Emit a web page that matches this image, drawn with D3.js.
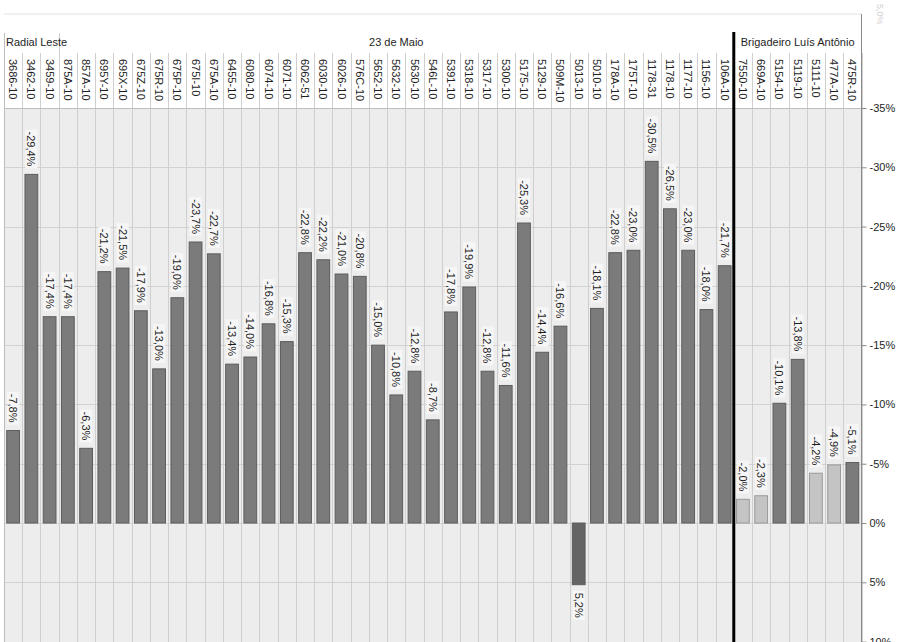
<!DOCTYPE html>
<html>
<head>
<meta charset="utf-8">
<script src="https://cdn.jsdelivr.net/npm/d3@7"></script>
<style>
  html, body { margin: 0; padding: 0; background: #fff; }
  svg { display: block; font-family: "Liberation Sans", Arial, sans-serif; }
</style>
</head>
<body>
<svg id="chart" width="897" height="642"></svg>
<script>
// ---- data ----
const categories = ["3686-10","3462-10","3459-10","875A-10","857A-10","695Y-10","695X-10","675Z-10","675R-10","675P-10",
  "675I-10","675A-10","6455-10","6080-10","6074-10","6071-10","6062-51","6030-10","6026-10","576C-10",
  "5652-10","5632-10","5630-10","546L-10","5391-10","5318-10","5317-10","5300-10","5175-10","5129-10",
  "509M-10","5013-10","5010-10","178A-10","175T-10","1178-31","1178-10","1177-10","1156-10","106A-10",
  "7550-10","669A-10","5154-10","5119-10","5111-10","477A-10","475R-10"];
const values = [-7.8,-29.4,-17.4,-17.4,-6.3,-21.2,-21.5,-17.9,-13.0,-19.0,
  -23.7,-22.7,-13.4,-14.0,-16.8,-15.3,-22.8,-22.2,-21.0,-20.8,
  -15.0,-10.8,-12.8,-8.7,-17.8,-19.9,-12.8,-11.6,-25.3,-14.4,
  -16.6,5.2,-18.1,-22.8,-23.0,-30.5,-26.5,-23.0,-18.0,-21.7,
  -2.0,-2.3,-10.1,-13.8,-4.2,-4.9,-5.1];
const groupNames = ["Radial Leste","23 de Maio","Brigadeiro Luís Antônio"];
const groupSizes = [3, 37, 7];
const lightBars = ["7550-10","669A-10","5111-10","477A-10"];
const yTicks = [-35,-30,-25,-20,-15,-10,-5,0,5,10];

// ---- layout ----
const svg = d3.select("#chart");
const left = 4, right = 861.5, plotTop = 108, plotBottom = 641.6;
const headerTop = 14, groupLineTop = 33, catLineTop = 53;

const x = d3.scaleBand().domain(categories).range([left, right]).paddingInner(0.3).paddingOuter(0.15);
const y = d3.scaleLinear().domain([-35, 10]).range([plotTop, plotBottom]);
const step = x.step();
const edge = i => left + i * step;

const fmt = v => v.toFixed(1).replace(".", ",") + "%";

// plot background
svg.append("rect").attr("x", left).attr("y", plotTop).attr("width", right - left).attr("height", 642 - plotTop)
  .attr("fill", "#ededed");

// top faint line
svg.append("line").attr("x1", left).attr("x2", right).attr("y1", headerTop).attr("y2", headerTop)
  .attr("stroke", "#e2e2e2");

// horizontal gridlines
svg.append("g").selectAll("line").data(yTicks).join("line")
  .attr("x1", left).attr("x2", right)
  .attr("y1", d => Math.round(y(d)) + 0.5).attr("y2", d => Math.round(y(d)) + 0.5)
  .attr("stroke", "#d2d2d2");

// column separators
const bounds = d3.range(0, categories.length + 1);
const groupEdges = [0];
groupSizes.reduce((acc, s) => { groupEdges.push(acc + s); return acc + s; }, 0);
svg.append("g").selectAll("line").data(bounds).join("line")
  .attr("x1", i => Math.round(edge(i)) + 0.5).attr("x2", i => Math.round(edge(i)) + 0.5)
  .attr("y1", i => (i === 0 || i === groupEdges[1]) ? groupLineTop : catLineTop)
  .attr("y2", 642)
  .attr("stroke", i => (i === 0) ? "#bdbdbd" : "#cfcfcf");

// header bottom line
svg.append("line").attr("x1", left).attr("x2", right).attr("y1", plotTop + 0.5).attr("y2", plotTop + 0.5)
  .attr("stroke", "#bdbdbd");

// bars
svg.append("g").selectAll("rect").data(categories).join("rect")
  .attr("x", c => x(c))
  .attr("width", x.bandwidth())
  .attr("y", (c, i) => Math.min(y(0), y(values[i])))
  .attr("height", (c, i) => Math.abs(y(values[i]) - y(0)))
  .attr("fill", (c, i) => lightBars.includes(c) ? "#c4c4c4" : (values[i] > 0 ? "#646464" : "#7b7b7b"))
  .attr("stroke", (c, i) => lightBars.includes(c) ? "#9a9a9a" : "#5c5c5c")
  .attr("stroke-width", 1);

// value labels
const vl = svg.append("g").selectAll("g").data(categories).join("g")
  .attr("transform", (c, i) => {
    const v = values[i];
    const yy = v < 0 ? y(v) - 8 : y(v) + 8;
    return `translate(${x(c) + x.bandwidth() / 2},${yy}) rotate(90)`;
  });
vl.append("rect").attr("class", "bg");
vl.append("text")
  .attr("text-anchor", (c, i) => values[i] < 0 ? "end" : "start")
  .attr("dominant-baseline", "central")
  .attr("font-size", 11)
  .attr("fill", "#1e1e1e")
  .text((c, i) => fmt(values[i]));
vl.each(function() {
  const g = d3.select(this);
  const b = g.select("text").node().getBBox();
  g.select("rect.bg").attr("x", b.x - 2).attr("y", b.y).attr("width", b.width + 4).attr("height", b.height)
    .attr("fill", "#f6f6f6");
});

// category labels
svg.append("g").selectAll("text").data(categories).join("text")
  .attr("transform", c => `translate(${x(c) + x.bandwidth() / 2},59) rotate(90)`)
  .attr("text-anchor", "start")
  .attr("dominant-baseline", "central")
  .attr("font-size", 11)
  .attr("fill", "#1e1e1e")
  .text(c => c);

// group labels
svg.append("g").selectAll("text").data(groupNames).join("text")
  .attr("x", (g, i) => i === 0 ? edge(groupEdges[0]) + 2 : (edge(groupEdges[i]) + edge(groupEdges[i + 1])) / 2)
  .attr("y", 46)
  .attr("text-anchor", (g, i) => i === 0 ? "start" : "middle")
  .attr("font-size", 11)
  .attr("fill", "#1e1e1e")
  .text(g => g);

// thick divider before last group
svg.append("line")
  .attr("x1", edge(groupEdges[2])).attr("x2", edge(groupEdges[2]))
  .attr("y1", groupLineTop - 1).attr("y2", 642)
  .attr("stroke", "#000").attr("stroke-width", 3);

// right axis
const axis = svg.append("g").attr("transform", `translate(${right},0)`)
  .call(d3.axisRight(y).tickValues(yTicks).tickSize(5).tickPadding(3).tickFormat(d => d + "%"));
axis.select(".domain").remove();
axis.selectAll(".tick line").attr("stroke", "#8a8a8a");
axis.selectAll(".tick text").attr("font-size", 11).attr("fill", "#1e1e1e")
  .attr("font-family", "Liberation Sans, Arial, sans-serif");
svg.append("line").attr("x1", right).attr("x2", right).attr("y1", headerTop).attr("y2", 642)
  .attr("stroke", "#8a8a8a");

// faint label in the top right corner
svg.append("text").attr("transform", "translate(880,4) rotate(90)")
  .attr("font-size", 9).attr("fill", "#d0d0d0").attr("dominant-baseline", "central")
  .text("5,0%");
</script>
</body>
</html>
